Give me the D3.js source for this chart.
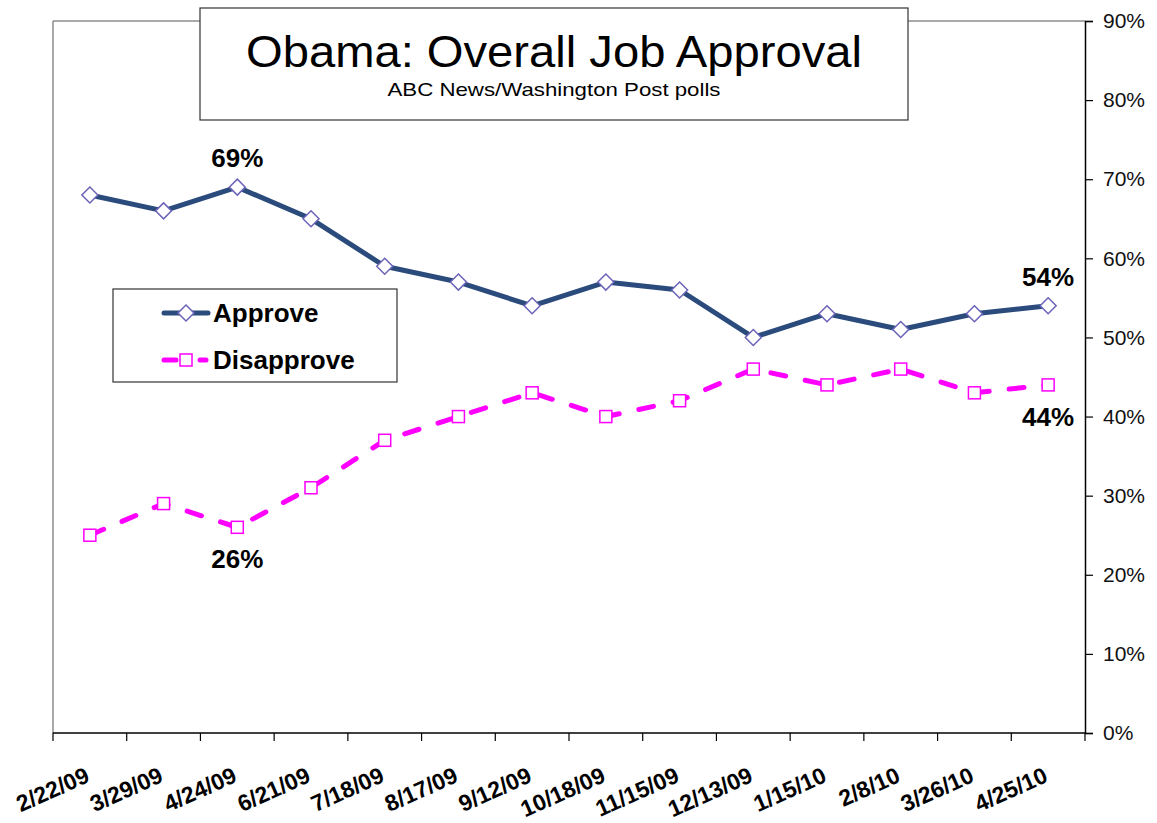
<!DOCTYPE html>
<html><head><meta charset="utf-8">
<script src="https://cdn.jsdelivr.net/npm/d3@7"></script>
<style>body{margin:0;background:#fff;} text{font-family:Arial,"Liberation Sans",sans-serif;}</style>
</head><body><svg id="c" width="1157" height="823"></svg>
<script>
const categories = ["2/22/09","3/29/09","4/24/09","6/21/09","7/18/09","8/17/09","9/12/09","10/18/09","11/15/09","12/13/09","1/15/10","2/8/10","3/26/10","4/25/10"];
const approve = [68,66,69,65,59,57,54,57,56,50,53,51,53,54];
const disapprove = [25,29,26,31,37,40,43,40,42,46,44,46,43,44];
const yTicks = [0,10,20,30,40,50,60,70,80,90];
const callouts = [
  {series:"approve", i:2, text:"69%", pos:"above"},
  {series:"disapprove", i:2, text:"26%", pos:"below"},
  {series:"approve", i:13, text:"54%", pos:"above"},
  {series:"disapprove", i:13, text:"44%", pos:"below"}
];

const svg = d3.select("#c");
const L = 53, R = 1085, T = 21, B = 733;
const x = d3.scaleBand().domain(categories).range([L, R]);
const y = d3.scaleLinear().domain([0, 90]).range([B, T]);
const cx = d => x(d) + x.bandwidth()/2;

// plot area border (gray top/left)
svg.append("line").attr("x1",L).attr("x2",R).attr("y1",T).attr("y2",T).attr("stroke","#8c8c8c").attr("stroke-width",1.5);
svg.append("line").attr("x1",L).attr("x2",L).attr("y1",T).attr("y2",B).attr("stroke","#8c8c8c").attr("stroke-width",1.5);

// right axis
const ya = svg.append("g").attr("transform",`translate(${R},0)`)
  .call(d3.axisRight(y).tickValues(yTicks).tickFormat(d=>d+"%").tickSize(8).tickPadding(10));
ya.select(".domain").attr("stroke","#000").attr("stroke-width",1.5);
ya.selectAll(".tick line").attr("stroke","#000").attr("stroke-width",1.2);
ya.selectAll("text").attr("font-size",21).attr("fill","#111").attr("font-family","Arial,'Liberation Sans',sans-serif");

// bottom axis with ticks between categories
const xa = svg.append("g").attr("transform",`translate(0,${B})`);
xa.append("line").attr("x1",L).attr("x2",R).attr("stroke","#000").attr("stroke-width",1.5);
const bounds = categories.map(c => x(c)).concat([R]);
xa.selectAll("line.t").data(bounds).join("line").attr("class","t")
  .attr("x1",d=>d).attr("x2",d=>d).attr("y1",0).attr("y2",8).attr("stroke","#000").attr("stroke-width",1.2);
xa.selectAll("text").data(categories).join("text")
  .attr("transform",d=>`translate(${cx(d)+1},${48}) rotate(-24)`)
  .attr("text-anchor","end")
  .attr("font-size",23).attr("font-weight","bold").attr("fill","#000").text(d=>d);

// lines
const line = d3.line().x((d,i)=>cx(categories[i])).y(d=>y(d));
svg.append("path").datum(approve).attr("d",line).attr("fill","none")
  .attr("stroke","#2a4b7c").attr("stroke-width",5).attr("stroke-linejoin","round");
svg.append("path").datum(disapprove).attr("d",line).attr("fill","none")
  .attr("stroke","#ff00ff").attr("stroke-width",5).attr("stroke-dasharray","15,20").attr("stroke-linecap","round");

// markers
const diamond = s => `M0,${-s}L${s},0L0,${s}L${-s},0Z`;
svg.selectAll("path.am").data(approve).join("path").attr("class","am")
  .attr("d",diamond(8)).attr("transform",(d,i)=>`translate(${cx(categories[i])},${y(d)})`)
  .attr("fill","#fff").attr("stroke","#6a63b8").attr("stroke-width",1.5);
svg.selectAll("rect.dm").data(disapprove).join("rect").attr("class","dm")
  .attr("x",(d,i)=>cx(categories[i])-6).attr("y",d=>y(d)-6).attr("width",12).attr("height",12)
  .attr("fill","#fff").attr("stroke","#ff00ff").attr("stroke-width",1.5);

// callouts
callouts.forEach(c => {
  const v = (c.series==="approve"?approve:disapprove)[c.i];
  svg.append("text").attr("x",cx(categories[c.i])).attr("y", c.pos==="above" ? y(v)-20 : y(v)+41)
    .attr("text-anchor","middle").attr("font-size",26).attr("font-weight","bold").text(c.text);
});

// title box
svg.append("rect").attr("x",200).attr("y",8).attr("width",708).attr("height",112)
  .attr("fill","#fff").attr("stroke","#333").attr("stroke-width",1.2);
svg.append("text").attr("x",554).attr("y",67).attr("text-anchor","middle").attr("font-size",44)
  .attr("textLength",616).attr("lengthAdjust","spacingAndGlyphs").text("Obama: Overall Job Approval");
svg.append("text").attr("x",554).attr("y",96).attr("text-anchor","middle").attr("font-size",19)
  .attr("textLength",333).attr("lengthAdjust","spacingAndGlyphs").text("ABC News/Washington Post polls");

// legend
const lg = svg.append("g");
lg.append("rect").attr("x",113).attr("y",289).attr("width",284).attr("height",93)
  .attr("fill","#fff").attr("stroke","#333").attr("stroke-width",1.2);
lg.append("line").attr("x1",164).attr("x2",208).attr("y1",313).attr("y2",313).attr("stroke","#2a4b7c").attr("stroke-width",5).attr("stroke-linecap","round");
lg.append("path").attr("d",diamond(8)).attr("transform","translate(186,313)").attr("fill","#fff").attr("stroke","#6a63b8").attr("stroke-width",1.5);
lg.append("text").attr("x",213).attr("y",322).attr("font-size",26).attr("font-weight","bold").text("Approve");
lg.append("line").attr("x1",164).attr("x2",176).attr("y1",360).attr("y2",360).attr("stroke","#ff00ff").attr("stroke-width",5).attr("stroke-linecap","round");
lg.append("line").attr("x1",200).attr("x2",206).attr("y1",360).attr("y2",360).attr("stroke","#ff00ff").attr("stroke-width",5).attr("stroke-linecap","round");
lg.append("rect").attr("x",180).attr("y",354).attr("width",12).attr("height",12).attr("fill","#fff").attr("stroke","#ff00ff").attr("stroke-width",1.5);
lg.append("text").attr("x",213).attr("y",369).attr("font-size",26).attr("font-weight","bold").text("Disapprove");
</script></body></html>
